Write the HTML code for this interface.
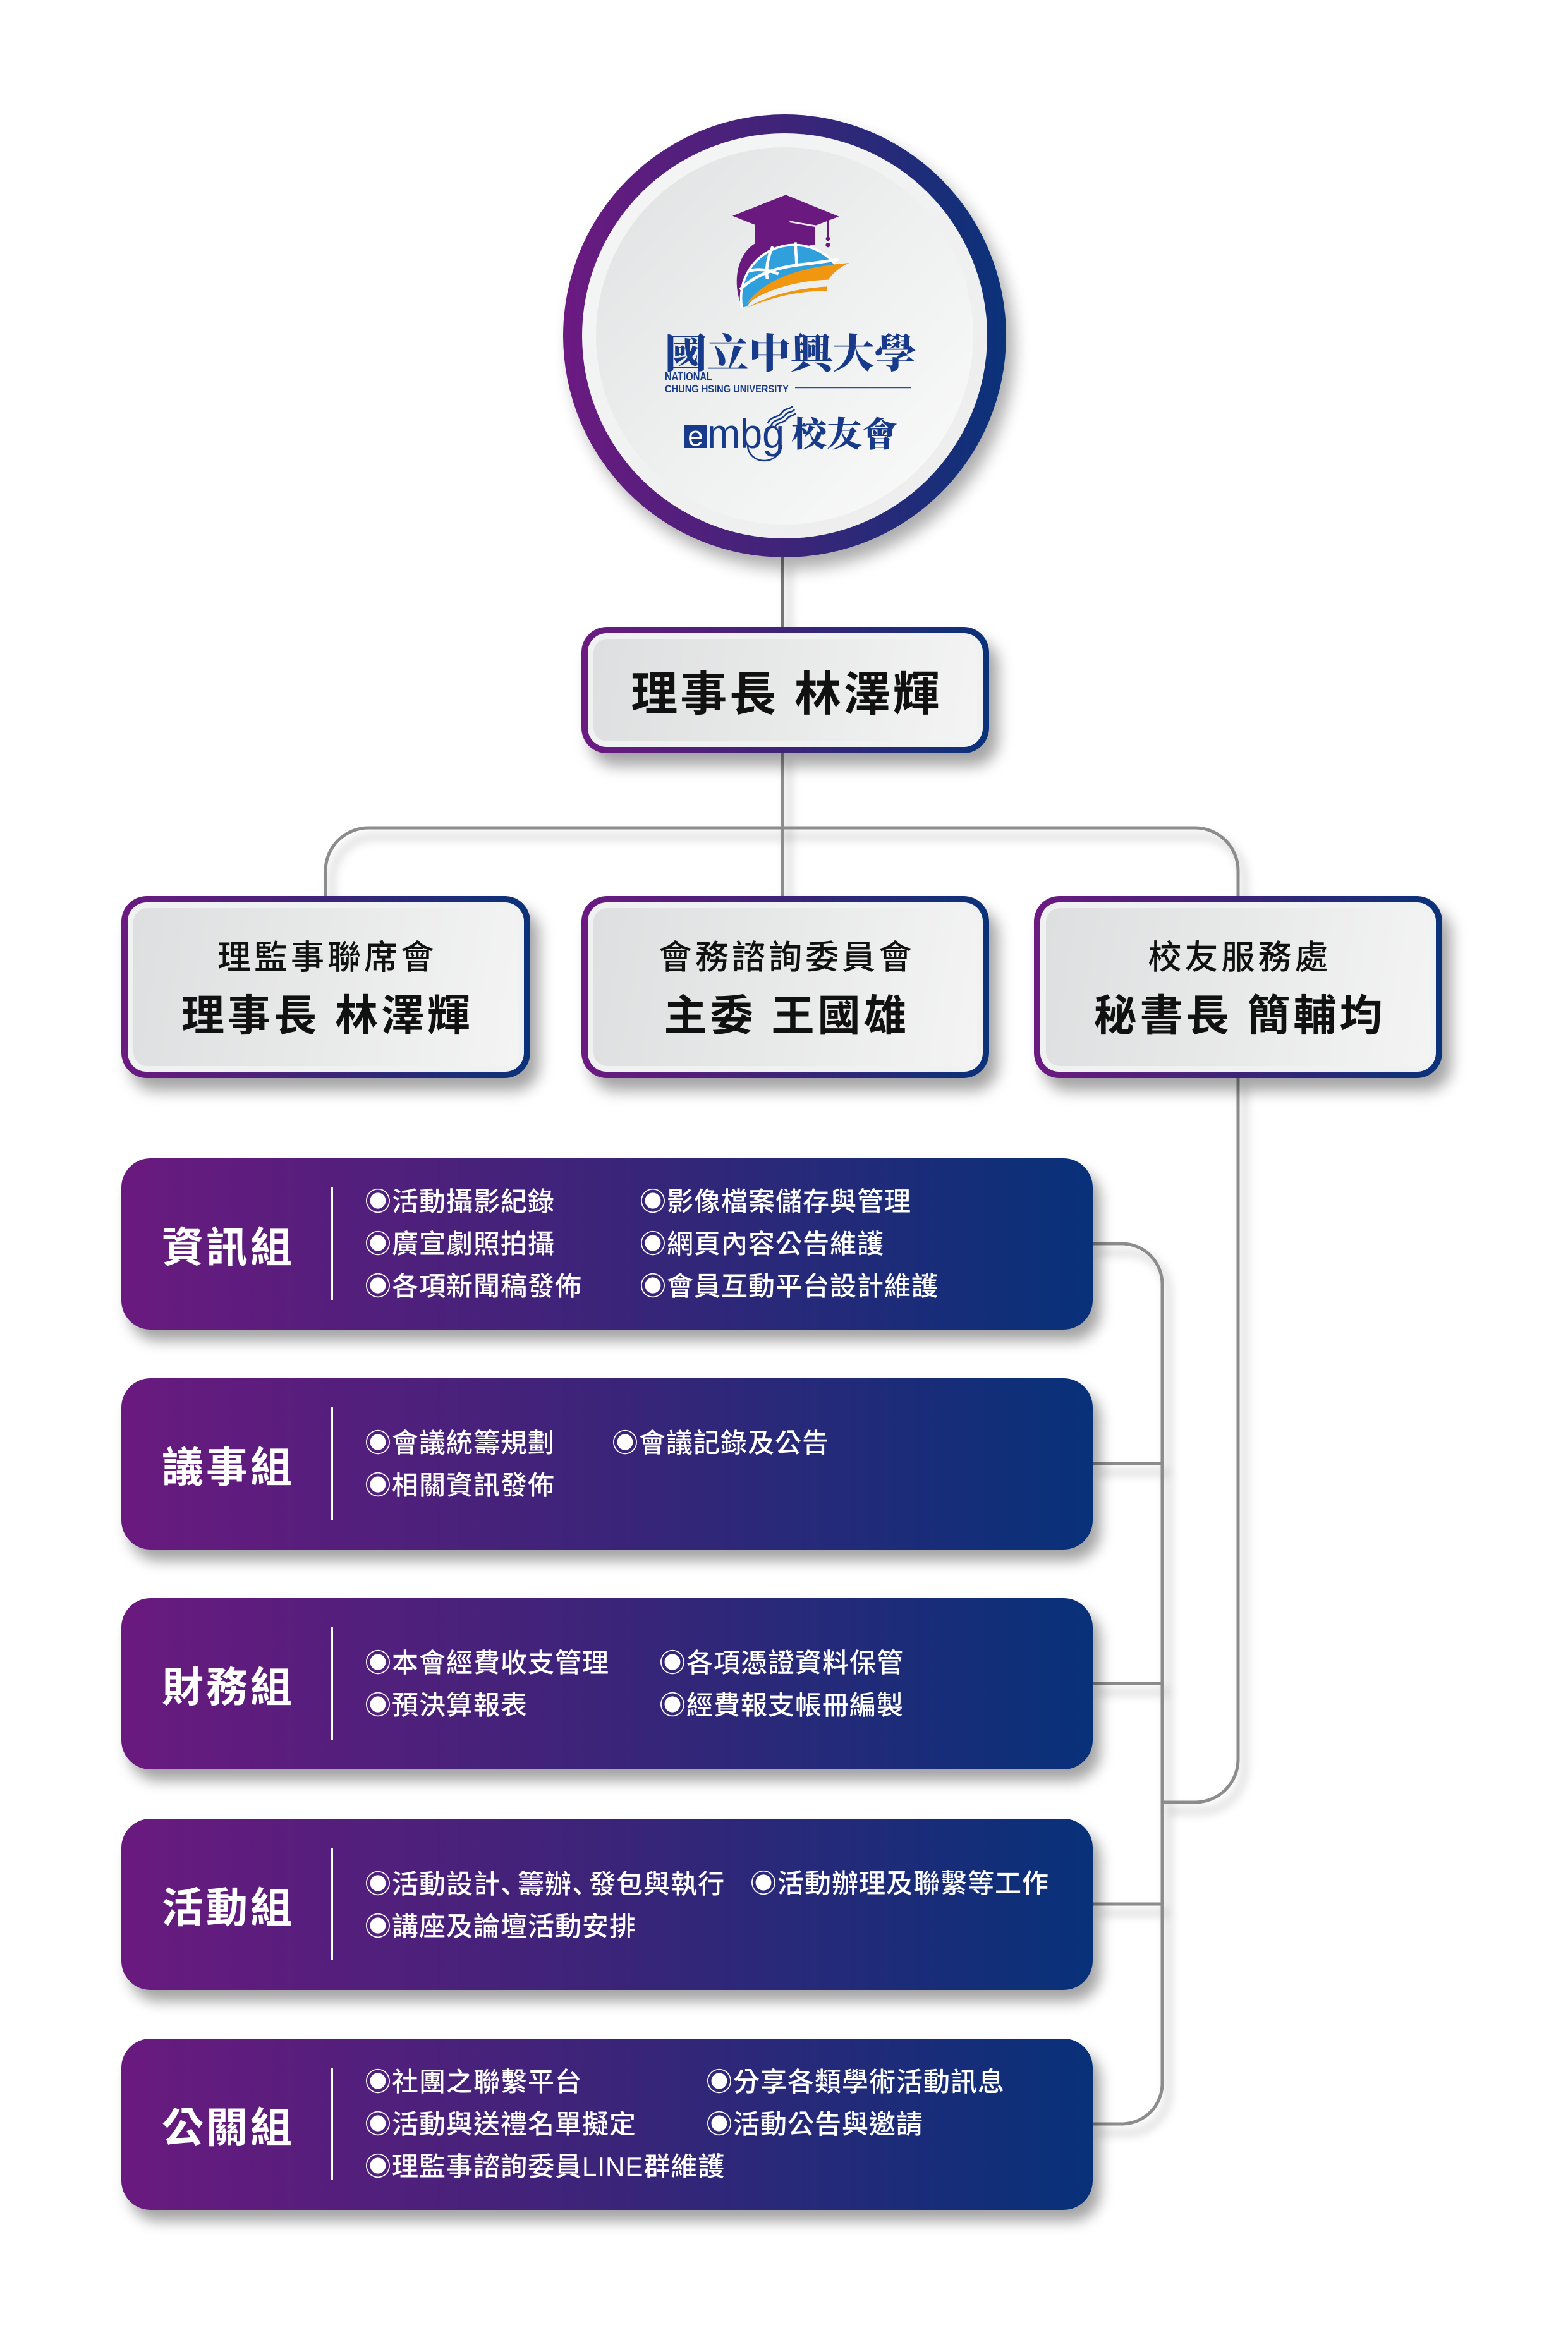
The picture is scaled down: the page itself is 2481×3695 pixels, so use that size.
<!DOCTYPE html>
<html><head><meta charset="utf-8">
<style>
html,body{margin:0;padding:0;background:#fff;}
body{width:2481px;height:3695px;position:relative;overflow:hidden;font-family:"Liberation Sans","Noto Sans CJK TC",sans-serif;}
svg{position:absolute;left:0;top:0;}
.box{position:absolute;border-radius:40px;background:linear-gradient(90deg,#6b1a80 0%,#3d2479 50%,#0a3279 100%);padding:10px;box-sizing:border-box;box-shadow:14px 20px 24px rgba(0,0,0,0.36);z-index:2;}
.rim{width:100%;height:100%;border-radius:30px;background:#f0f1f1;padding:9px;box-sizing:border-box;}
.panel{width:100%;height:100%;border-radius:22px;background:linear-gradient(100deg,#dedfe0 0%,#e8e9e9 50%,#f4f4f4 100%);display:flex;flex-direction:column;align-items:center;justify-content:center;color:#111;white-space:nowrap;}
.l1{font-size:53px;font-weight:500;letter-spacing:5px;line-height:93px;padding-left:5px;}
.l2{font-size:68px;font-weight:700;letter-spacing:5px;line-height:93px;padding-left:5px;}
.l0{font-size:74px;font-weight:700;letter-spacing:4px;padding-left:4px;}
.bar{position:absolute;left:192px;width:1537px;height:271px;border-radius:46px;background:linear-gradient(90deg,#6a1a7f 0%,#3b2479 50%,#083179 100%);box-shadow:12px 18px 22px rgba(0,0,0,0.36);color:#fff;z-index:2;}
.bar .t{position:absolute;left:0;top:0;width:334px;height:271px;display:flex;align-items:center;justify-content:center;font-size:66px;font-weight:700;letter-spacing:4px;padding-left:4px;box-sizing:border-box;white-space:nowrap;}
.bar .d{position:absolute;left:332px;top:46px;width:3px;height:178px;background:#fff;}
.bar .c{position:absolute;top:0;height:271px;display:flex;flex-direction:column;justify-content:center;font-size:42px;font-weight:500;letter-spacing:1px;line-height:67px;white-space:nowrap;}
.cm{letter-spacing:-15px;font-family:"Noto Sans CJK JP",sans-serif;}
.circle{position:absolute;left:891px;top:181px;width:701px;height:701px;border-radius:50%;background:linear-gradient(90deg,#6b1a80 0%,#3e2479 50%,#0a3279 100%);box-shadow:12px 18px 26px rgba(0,0,0,0.33);z-index:2;}
.band{position:absolute;left:30px;top:30px;width:641px;height:641px;border-radius:50%;background:linear-gradient(135deg,#f5f6f6 0%,#ececec 100%);}
.disc{position:absolute;left:22px;top:22px;width:597px;height:597px;border-radius:50%;background:linear-gradient(135deg,#e0e1e2 0%,#eeefef 50%,#fbfbfb 100%);}
</style></head>
<body>

<!-- connectors -->
<svg width="2481" height="3695" style="z-index:1">
  <defs>
    <filter id="bl" x="-20%" y="-20%" width="140%" height="140%"><feGaussianBlur stdDeviation="7"/></filter>
  </defs>
  <g fill="none" stroke="rgba(0,0,0,0.12)" stroke-width="12" filter="url(#bl)" transform="translate(10 14)">
    <path d="M1238 880 L1238 995"/>
    <path d="M1238 1190 L1238 1420"/>
    <path d="M515 1420 L515 1378 A68 68 0 0 1 583 1310 L1891 1310 A68 68 0 0 1 1959 1378 L1959 1420"/>
    <path d="M1959 1704 L1959 2784 A68 68 0 0 1 1891 2852 L1839 2852"/>
    <path d="M1727 1968 L1775 1968 A64 64 0 0 1 1839 2032 L1839 3297 A64 64 0 0 1 1775 3361 L1727 3361"/>
    <path d="M1727 2316 L1839 2316 M1727 2664 L1839 2664 M1727 3013 L1839 3013"/>
  </g>
  <g fill="none" stroke="#8c8c8c" stroke-width="5">
    <path d="M1238 880 L1238 995" stroke="#767676"/>
    <path d="M1238 1190 L1238 1420"/>
    <path d="M515 1420 L515 1378 A68 68 0 0 1 583 1310 L1891 1310 A68 68 0 0 1 1959 1378 L1959 1420"/>
    <path d="M1959 1704 L1959 2784 A68 68 0 0 1 1891 2852 L1839 2852"/>
    <path d="M1727 1968 L1775 1968 A64 64 0 0 1 1839 2032 L1839 3297 A64 64 0 0 1 1775 3361 L1727 3361"/>
    <path d="M1727 2316 L1839 2316 M1727 2664 L1839 2664 M1727 3013 L1839 3013"/>
  </g>
</svg>

<!-- logo circle -->
<div class="circle"><div class="band"><div class="disc"></div></div></div>

<svg width="2481" height="1000" style="z-index:3">
  <defs>
    <clipPath id="gc">
      <path d="M360 600 L360 240 L920 240 L920 378 C700 395 520 460 425 585 Z"/>
    </clipPath>
  </defs>
  <g transform="translate(1040 290) scale(0.33333)">
    <polygon points="357,155 610,55 862,158 610,255" fill="#6a1a7e"/>
    <path d="M465 190 L750 190 L750 290 L560 330 L430 480 L392 560 C372 500 370 420 400 360 C420 320 440 300 465 285 Z" fill="#6a1a7e"/>
    <path d="M628 182 L760 205" stroke="#efe8f1" stroke-width="8" fill="none"/>
    <path d="M810 168 L810 275" stroke="#6a1a7e" stroke-width="8"/>
    <circle cx="810" cy="263" r="10" fill="#6a1a7e"/>
    <circle cx="810" cy="293" r="11" fill="#6a1a7e"/>
    <g clip-path="url(#gc)">
      <circle cx="650" cy="545" r="258" fill="#ffffff"/>
      <circle cx="650" cy="545" r="247" fill="#2fa0db"/>
      <g stroke="#fff" stroke-width="14" fill="none">
        <path d="M655 280 L662 390"/>
        <path d="M548 300 C522 355 515 410 522 455"/>
        <path d="M392 505 C470 430 570 395 720 382 L860 362"/>
        <path d="M430 418 C480 402 530 412 575 430"/>
      </g>
    </g>
    <path d="M420 575 C500 470 640 400 912 378 C865 398 830 430 812 458 C680 462 530 495 420 575 Z" fill="#f0960f"/>
    <path d="M425 592 C530 530 660 500 806 490 L806 510 C660 512 530 545 425 592 Z" fill="#f0960f"/>
  </g>
  <text x="1052" y="582" font-family="'Noto Serif CJK SC',serif" font-weight="900" font-size="64" textLength="398" lengthAdjust="spacingAndGlyphs" fill="#173a8b">國立中興大學</text>
  <text x="1052" y="602" font-family="'Liberation Sans',sans-serif" font-weight="700" font-size="18" textLength="75" lengthAdjust="spacingAndGlyphs" fill="#173a8b">NATIONAL</text>
  <text x="1052" y="621" font-family="'Liberation Sans',sans-serif" font-weight="700" font-size="17" textLength="196" lengthAdjust="spacingAndGlyphs" fill="#173a8b">CHUNG HSING UNIVERSITY</text>
  <path d="M1258 613.5 L1442 613.5" stroke="#2c4c9c" stroke-width="1.6"/>
  <rect x="1083" y="673" width="35" height="36" fill="#173a8b"/>
  <text x="1100.5" y="705" text-anchor="middle" font-family="'Liberation Sans',sans-serif" font-size="44" fill="#ffffff">e</text>
  <text x="1119" y="709" font-family="'Liberation Sans',sans-serif" font-size="66" textLength="122" lengthAdjust="spacingAndGlyphs" fill="#173a8b">mbg</text>
  <path d="M1183 706 C1186 736 1232 738 1237 704" stroke="#173a8b" stroke-width="2.5" fill="none"/>
  <g stroke="#173a8b" stroke-width="2.6" fill="none">
    <path d="M1215 670 C1218 658 1232 662 1238 652 C1242 646 1250 648 1254 643"/>
    <path d="M1220 674 C1224 662 1236 666 1242 657 C1246 651 1254 653 1257 648"/>
    <path d="M1226 676 C1230 667 1240 670 1246 662 C1250 657 1256 658 1259 654"/>
  </g>
  <text x="1252" y="706" font-family="'Noto Serif CJK SC',serif" font-weight="900" font-size="54" textLength="168" lengthAdjust="spacingAndGlyphs" fill="#173a8b">校友會</text>
</svg>

<!-- top box -->
<div class="box" style="left:920px;top:992px;width:645px;height:200px;"><div class="rim"><div class="panel"><div class="l0">理事長 林澤輝</div></div></div></div>

<!-- three boxes -->
<div class="box" style="left:192px;top:1418px;width:647px;height:288px;"><div class="rim"><div class="panel"><div class="l1">理監事聯席會</div><div class="l2">理事長 林澤輝</div></div></div></div>
<div class="box" style="left:920px;top:1418px;width:645px;height:288px;"><div class="rim"><div class="panel"><div class="l1">會務諮詢委員會</div><div class="l2">主委 王國雄</div></div></div></div>
<div class="box" style="left:1636px;top:1418px;width:646px;height:288px;"><div class="rim"><div class="panel"><div class="l1">校友服務處</div><div class="l2">秘書長 簡輔均</div></div></div></div>

<!-- bars -->
<div class="bar" style="top:1833px;">
  <div class="t">資訊組</div><div class="d"></div>
  <div class="c" style="left:385px;"><div>◉活動攝影紀錄</div><div>◉廣宣劇照拍攝</div><div>◉各項新聞稿發佈</div></div>
  <div class="c" style="left:820px;"><div>◉影像檔案儲存與管理</div><div>◉網頁內容公告維護</div><div>◉會員互動平台設計維護</div></div>
</div>

<div class="bar" style="top:2181px;">
  <div class="t">議事組</div><div class="d"></div>
  <div class="c" style="left:385px;"><div>◉會議統籌規劃</div><div>◉相關資訊發佈</div></div>
  <div class="c" style="left:776px;"><div>◉會議記錄及公告</div><div>&nbsp;</div></div>
</div>

<div class="bar" style="top:2529px;">
  <div class="t">財務組</div><div class="d"></div>
  <div class="c" style="left:385px;"><div>◉本會經費收支管理</div><div>◉預決算報表</div></div>
  <div class="c" style="left:851px;"><div>◉各項憑證資料保管</div><div>◉經費報支帳冊編製</div></div>
</div>

<div class="bar" style="top:2878px;">
  <div class="t">活動組</div><div class="d"></div>
  <div class="c" style="left:385px;"><div>◉活動設計<span class="cm">、</span>籌辦<span class="cm">、</span>發包與執行</div><div>◉講座及論壇活動安排</div></div>
  <div class="c" style="left:995px;"><div>◉活動辦理及聯繫等工作</div><div>&nbsp;</div></div>
</div>

<div class="bar" style="top:3226px;">
  <div class="t">公關組</div><div class="d"></div>
  <div class="c" style="left:385px;"><div>◉社團之聯繫平台</div><div>◉活動與送禮名單擬定</div><div>◉理監事諮詢委員LINE群維護</div></div>
  <div class="c" style="left:925px;"><div>◉分享各類學術活動訊息</div><div>◉活動公告與邀請</div><div>&nbsp;</div></div>
</div>

</body></html>
